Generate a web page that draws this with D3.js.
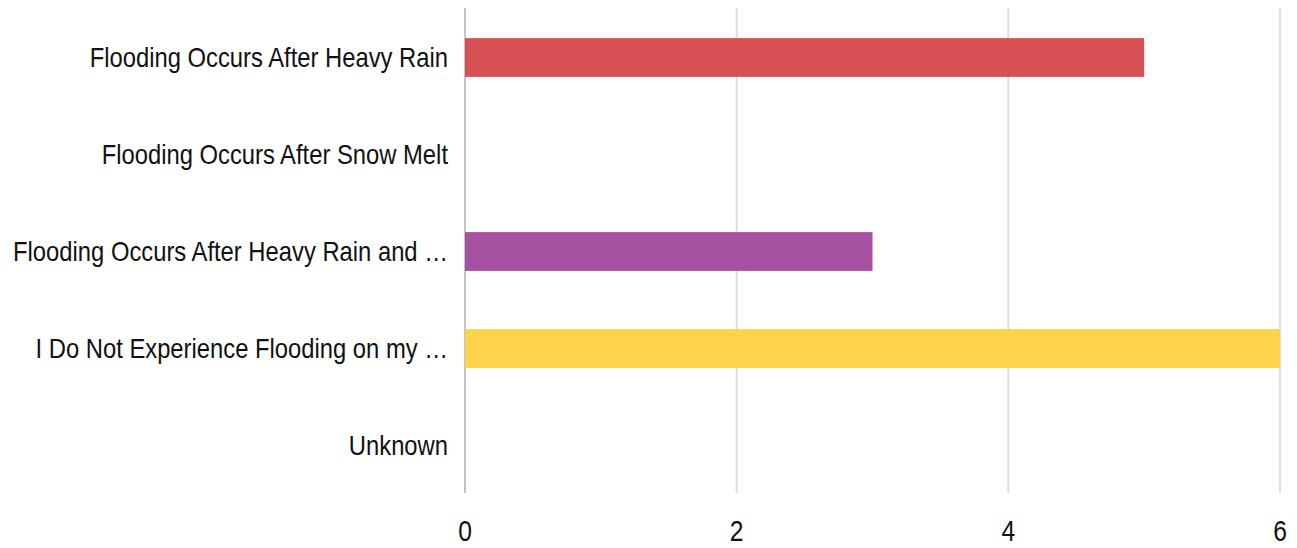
<!DOCTYPE html>
<html>
<head>
<meta charset="utf-8">
<script src="https://cdn.jsdelivr.net/npm/d3@7"></script>
<style>
  html, body { margin: 0; padding: 0; background: #fff; }
  #viz text { font-family: "Liberation Sans", Arial, sans-serif; fill: #111; }
</style>
</head>
<body>
<div id="viz"></div>
<script>
const categories = [
  "Flooding Occurs After Heavy Rain",
  "Flooding Occurs After Snow Melt",
  "Flooding Occurs After Heavy Rain and \u2026",
  "I Do Not Experience Flooding on my \u2026",
  "Unknown"
];
const values = [5, 0, 3, 6, 0];
const barColors = ["#d6494c", "#d6494c", "#a2489e", "#fdd23f", "#999999"];
const xTicks = [0, 2, 4, 6];

const width = 1297, height = 548;
const margin = { top: 8, right: 17, bottom: 55, left: 465 };
// reference uses a narrow face; squeeze a regular sans horizontally
const narrow = 0.85;

const svg = d3.select("#viz").append("svg")
  .attr("width", width)
  .attr("height", height);

const x = d3.scaleLinear()
  .domain([0, 6])
  .range([margin.left, width - margin.right]);

const y = d3.scaleBand()
  .domain(categories)
  .range([margin.top, height - margin.bottom])
  .paddingInner(0.6)
  .paddingOuter(0.3);

// grid lines
svg.append("g")
  .selectAll("line")
  .data(xTicks)
  .enter().append("line")
  .attr("x1", d => x(d))
  .attr("x2", d => x(d))
  .attr("y1", margin.top)
  .attr("y2", height - margin.bottom)
  .attr("stroke", d => d === 0 ? "#c4c4c4" : "#dddddd")
  .attr("stroke-width", 2);

// bars
svg.append("g")
  .selectAll("rect")
  .data(values)
  .enter().append("rect")
  .attr("x", x(0))
  .attr("y", (d, i) => y(categories[i]) + 1)
  .attr("width", d => x(d) - x(0))
  .attr("height", y.bandwidth())
  .attr("fill", (d, i) => barColors[i])
  .attr("fill-opacity", 0.95);

// category labels
svg.append("g")
  .selectAll("text")
  .data(categories)
  .enter().append("text")
  .attr("transform", d => `translate(${margin.left - 17},${y(d) + y.bandwidth() / 2 + 1}) scale(${narrow},1)`)
  .attr("dy", "0.35em")
  .attr("text-anchor", "end")
  .style("font-size", "28px")
  .text(d => d);

// x tick labels
svg.append("g")
  .selectAll("text")
  .data(xTicks)
  .enter().append("text")
  .attr("transform", d => `translate(${x(d)},531) scale(${narrow},1)`)
  .attr("dy", "0.35em")
  .attr("text-anchor", "middle")
  .style("font-size", "29px")
  .text(d => d);
</script>
</body>
</html>
